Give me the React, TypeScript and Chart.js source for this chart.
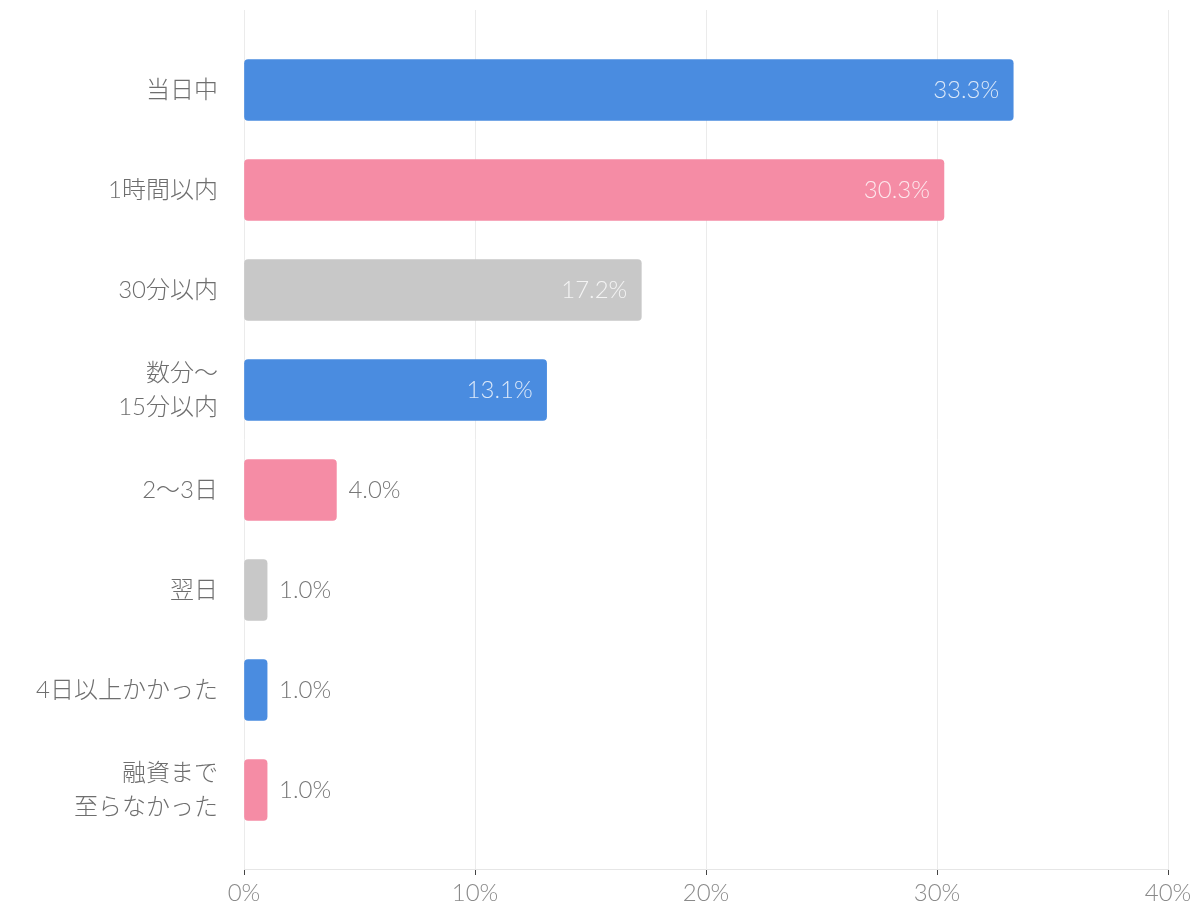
import React, { useEffect, useRef } from "react";
import { Chart, registerables } from "chart.js";

Chart.register(...registerables);

const categories: (string | string[])[] = [
  "当日中",
  "1時間以内",
  "30分以内",
  ["数分〜", "15分以内"],
  "2〜3日",
  "翌日",
  "4日以上かかった",
  ["融資まで", "至らなかった"],
];
const values = [33.3, 30.3, 17.2, 13.1, 4.0, 1.0, 1.0, 1.0];
const barColors = ["#4a8ce0", "#f58ca5", "#c8c8c8", "#4a8ce0", "#f58ca5", "#c8c8c8", "#4a8ce0", "#f58ca5"];
const xTicks = [0, 10, 20, 30, 40];

const FONT = "'Lato Light', Lato, 'Noto Sans CJK JP', sans-serif";

const valueLabelPlugin = {
  id: "valueLabels",
  afterDatasetsDraw(chart: any) {
    const ctx = chart.ctx;
    const meta = chart.getDatasetMeta(0);
    ctx.save();
    ctx.font = `300 24px ${FONT}`;
    ctx.textBaseline = "middle";
    meta.data.forEach((bar: any, i: number) => {
      const v = values[i];
      const text = v.toFixed(1) + "%";
      if (v > 10) {
        ctx.fillStyle = "rgba(255,255,255,0.8)";
        ctx.textAlign = "right";
        ctx.fillText(text, bar.x - 14, bar.y);
      } else {
        ctx.fillStyle = "#777777";
        ctx.textAlign = "left";
        ctx.fillText(text, bar.x + 12, bar.y);
      }
    });
    ctx.restore();
  },
};

export default function App() {
  const ref = useRef<HTMLCanvasElement | null>(null);
  useEffect(() => {
    document.body.style.margin = "0";
    const chart = new Chart(ref.current as HTMLCanvasElement, {
      type: "bar",
      data: {
        datasets: [
          {
            data: values.map((v, i) => ({ x: v, y: i })) as any,
            backgroundColor: barColors,
            borderRadius: 4,
            borderSkipped: false,
            barThickness: 61,
          },
        ],
      },
      options: {
        indexAxis: "y",
        animation: false,
        responsive: true,
        maintainAspectRatio: false,
        layout: { padding: { top: 10, right: 33, left: 0, bottom: 0 } },
        plugins: { legend: { display: false }, tooltip: { enabled: false } },
        scales: {
          x: {
            type: "linear",
            min: 0,
            max: 40,
            afterBuildTicks: (scale: any) => {
              scale.ticks = xTicks.map((v) => ({ value: v }));
            },
            afterFit: (scale: any) => {
              scale.height = 42;
            },
            ticks: {
              callback: (v: any) => v + "%",
              color: "#8a8a8a",
              font: { family: FONT, size: 24, weight: 300 },
              padding: 4,
            },
            grid: {
              color: "#ebebeb",
              tickColor: "#444",
              tickLength: 6,
            },
            border: { color: "#e6e6e6" },
          },
          y: {
            type: "linear",
            reverse: true,
            offset: false,
            min: -0.8,
            max: 7.79,
            afterBuildTicks: (scale: any) => {
              scale.ticks = categories.map((_, i) => ({ value: i }));
            },
            afterFit: (scale: any) => {
              scale.width = 244;
              scale.paddingTop = 0;
              scale.paddingBottom = 0;
            },
            ticks: {
              callback: (v: any) => categories[v as number],
              color: "#6e6e6e",
              font: { family: FONT, size: 24, weight: 300, lineHeight: 1.4 },
              padding: 18,
            },
            grid: { display: false },
            border: { display: false },
          },
        },
      },
      plugins: [valueLabelPlugin],
    } as any);
    return () => chart.destroy();
  }, []);
  return (
    <div style={{ position: "relative", width: 1201, height: 911 }}>
      <canvas ref={ref} />
    </div>
  );
}
